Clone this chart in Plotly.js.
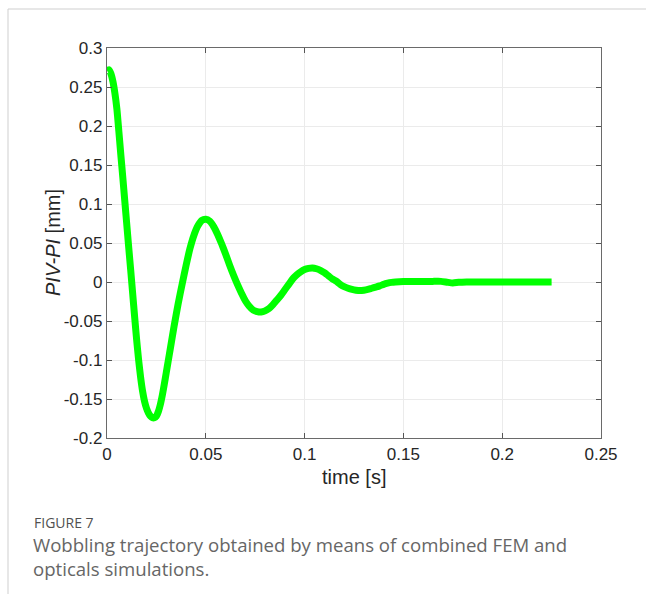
<!DOCTYPE html>
<html>
<head>
<meta charset="utf-8">
<script src="https://cdn.plot.ly/plotly-3.0.1.min.js"></script>
<style>
html,body{margin:0;padding:0;background:#fff;}
#chart{width:646px;height:594px;}
</style>
</head>
<body>
<div id="chart"></div>
<script>
// time [s]
var timeS = [0,0.001,0.002,0.003,0.004,0.005,0.006,0.007,0.008,0.009,0.010,0.011,0.012,0.013,0.014,0.015,0.016,0.017,0.018,0.019,0.020,0.021,0.022,0.023,0.024,0.025,0.026,0.027,0.028,0.029,0.030,0.031,0.032,0.034,0.036,0.038,0.040,0.042,0.044,0.046,0.048,0.050,0.052,0.054,0.056,0.058,0.060,0.062,0.064,0.066,0.068,0.070,0.072,0.074,0.076,0.078,0.080,0.082,0.084,0.086,0.088,0.090,0.092,0.094,0.096,0.098,0.100,0.102,0.104,0.106,0.108,0.110,0.112,0.114,0.116,0.118,0.120,0.122,0.124,0.126,0.128,0.130,0.132,0.134,0.136,0.138,0.140,0.142,0.144,0.146,0.150,0.155,0.160,0.165,0.169,0.172,0.175,0.178,0.182,0.190,0.200,0.210,0.225];
// PIV-PI [mm]
var pivPi = [0.271,0.272,0.267,0.257,0.242,0.222,0.193,0.163,0.134,0.104,0.074,0.044,0.015,-0.015,-0.045,-0.074,-0.100,-0.122,-0.140,-0.153,-0.162,-0.168,-0.172,-0.174,-0.174,-0.172,-0.166,-0.157,-0.145,-0.131,-0.116,-0.101,-0.086,-0.056,-0.028,-0.003,0.021,0.043,0.060,0.072,0.079,0.0805,0.078,0.071,0.061,0.049,0.036,0.022,0.009,-0.003,-0.014,-0.024,-0.031,-0.036,-0.038,-0.0385,-0.037,-0.034,-0.029,-0.023,-0.017,-0.010,-0.003,0.004,0.009,0.013,0.016,0.0175,0.018,0.017,0.015,0.012,0.008,0.004,0.001,-0.003,-0.006,-0.008,-0.0095,-0.0105,-0.011,-0.0105,-0.0095,-0.008,-0.0065,-0.005,-0.003,-0.0015,-0.0005,0.0,0.0005,0.0005,0.0005,0.0008,0.0008,-0.0002,-0.0012,-0.0004,0.0,0.0,0.0,0.0,0.0];

var xTickVals = [0,0.05,0.1,0.15,0.2,0.25];
var xTickText = ["0","0.05","0.1","0.15","0.2","0.25"];
var yTickVals = [-0.2,-0.15,-0.1,-0.05,0,0.05,0.1,0.15,0.2,0.25,0.3];
var yTickText = ["-0.2","-0.15","-0.1","-0.05","0","0.05","0.1","0.15","0.2","0.25","0.3"];
var xTitle = "time [s]";
var yTitle = "<i>PIV-PI</i> [mm]";

var fam = "Liberation Sans, Arial, sans-serif";
var axisFont = {family:fam, size:17, color:"#262626"};
var titleFont = {family:fam, size:20, color:"#262626"};
var capFam = "Open Sans, Noto Sans, sans-serif";

var trace = {
  x: timeS, y: pivPi, type:"scatter", mode:"lines",
  line:{color:"#00ff00", width:7, shape:"spline", smoothing:0.6},
  hoverinfo:"skip"
};

function px(p){ return (p-107)/494; }
function py(p){ return (438-p)/390; }

var layout = {
  width:646, height:594,
  margin:{l:107, r:45, t:48, b:156},
  paper_bgcolor:"#ffffff", plot_bgcolor:"#ffffff",
  showlegend:false,
  xaxis:{
    range:[0,0.25], tickvals:xTickVals, ticktext:xTickText,
    ticks:"inside", ticklen:5, tickcolor:"#555", tickwidth:1,
    showline:true, linecolor:"#6a6a6a", linewidth:1.2, mirror:"ticks",
    showgrid:true, gridcolor:"#ebebeb", gridwidth:1, zeroline:false,
    tickfont:axisFont
  },
  yaxis:{
    range:[-0.2,0.3], tickvals:yTickVals, ticktext:yTickText,
    ticks:"inside", ticklen:5, tickcolor:"#555", tickwidth:1,
    showline:true, linecolor:"#6a6a6a", linewidth:1.2, mirror:"ticks",
    showgrid:true, gridcolor:"#ebebeb", gridwidth:1, zeroline:false,
    tickfont:axisFont
  },
  shapes:[
    {type:"line", xref:"paper", yref:"paper", x0:px(8), x1:px(8), y0:py(9), y1:py(600), line:{color:"#cfcfcf", width:1}},
    {type:"line", xref:"paper", yref:"paper", x0:px(8), x1:px(650), y0:py(9), y1:py(9), line:{color:"#cfcfcf", width:1}}
  ],
  annotations:[
    {xref:"paper", yref:"paper", x:px(354), y:py(477), xanchor:"center", yanchor:"middle", showarrow:false,
     text:xTitle, font:titleFont},
    {xref:"paper", yref:"paper", x:px(53), y:py(243), xanchor:"center", yanchor:"middle", showarrow:false, textangle:-90,
     text:yTitle, font:titleFont},
    {xref:"paper", yref:"paper", x:px(32), y:py(522), xanchor:"left", yanchor:"middle", showarrow:false,
     text:"FIGURE 7", font:{family:capFam, size:14, color:"#505050"}},
    {xref:"paper", yref:"paper", x:px(31), y:py(544), xanchor:"left", yanchor:"middle", showarrow:false,
     text:"Wobbling trajectory obtained by means of combined FEM and", font:{family:capFam, size:18.6, color:"#666666"}},
    {xref:"paper", yref:"paper", x:px(31), y:py(568), xanchor:"left", yanchor:"middle", showarrow:false,
     text:"opticals simulations.", font:{family:capFam, size:18.6, color:"#666666"}}
  ]
};

Plotly.newPlot("chart", [trace], layout, {displayModeBar:false, staticPlot:true});
</script>
</body>
</html>
